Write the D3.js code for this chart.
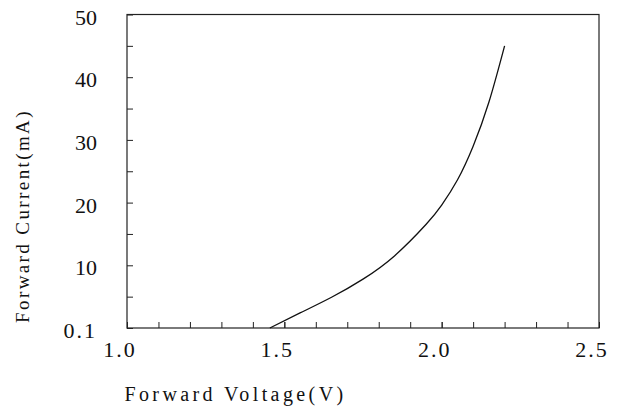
<!DOCTYPE html>
<html>
<head>
<meta charset="utf-8">
<script src="https://cdn.jsdelivr.net/npm/d3@7"></script>
<style>
  html, body { margin: 0; padding: 0; background: #fff; }
  svg { display: block; }
  text { font-family: "Liberation Serif", "DejaVu Serif", serif; fill: #111; }
</style>
</head>
<body>
<svg id="chart" width="625" height="412"></svg>
<script>
// Data
const voltage = [1.454, 1.55, 1.65, 1.75, 1.85, 1.95, 2.0, 2.05, 2.1, 2.15, 2.2];
const current = [0, 2.4, 4.9, 7.8, 11.5, 16.5, 19.6, 23.6, 29.0, 36.0, 45.0];
const xTicks = [1.0, 1.5, 2.0, 2.5];
const xTickLabels = ["1.0", "1.5", "2.0", "2.5"];
const yTicks = [0, 10, 20, 30, 40, 50];
const yTickLabels = ["0.1", "10", "20", "30", "40", "50"];
const xMinor = d3.range(11, 25).map(d => d / 10);
const yMinor = [5, 15, 25, 35, 45];

const svg = d3.select("#chart");
const L = 127, R = 599, T = 14.5, B = 328;

const x = d3.scaleLinear().domain([1.0, 2.5]).range([L, R]);
const y = d3.scaleLinear().domain([0, 50]).range([B, T]);

// Frame
svg.append("rect")
  .attr("x", L).attr("y", T).attr("width", R - L).attr("height", B - T)
  .attr("fill", "none").attr("stroke", "#222").attr("stroke-width", 1.2);

// X axis ticks (inside, pointing up)
const xAxis = d3.axisBottom(x).tickValues(xTicks.concat(xMinor)).tickSize(-6).tickFormat("");
const gx = svg.append("g").attr("transform", `translate(0,${B})`).call(xAxis);
gx.select(".domain").remove();
gx.selectAll("line").attr("stroke", "#222");

// Y axis ticks (inside, pointing right)
const yAxis = d3.axisLeft(y).tickValues(yTicks.concat(yMinor)).tickSize(-6).tickFormat("");
const gy = svg.append("g").attr("transform", `translate(${L},0)`).call(yAxis);
gy.select(".domain").remove();
gy.selectAll("line").attr("stroke", "#222");

// X tick labels
svg.append("g").selectAll("text").data(xTicks).join("text")
  .attr("x", d => x(d) - 7)
  .attr("y", 357)
  .attr("text-anchor", "middle")
  .attr("font-size", 22)
  .attr("letter-spacing", 2)
  .text((d, i) => xTickLabels[i]);

// Y tick labels
svg.append("g").selectAll("text").data(yTicks).join("text")
  .attr("x", 97)
  .attr("y", d => y(d) + 10)
  .attr("text-anchor", "end")
  .attr("font-size", 22)
  .attr("letter-spacing", d => d === 0 ? 2 : 0)
  .text((d, i) => yTickLabels[i]);

// Curve
const pts = voltage.map((v, i) => [v, current[i]]);
const line = d3.line().x(d => x(d[0])).y(d => y(d[1])).curve(d3.curveNatural);
svg.append("path").datum(pts)
  .attr("d", line)
  .attr("fill", "none").attr("stroke", "#111").attr("stroke-width", 1.3);

// Axis titles
svg.append("text")
  .attr("x", 235.5).attr("y", 401)
  .attr("text-anchor", "middle")
  .attr("font-size", 20)
  .attr("letter-spacing", 3.4)
  .text("Forward Voltage(V)");

svg.append("text")
  .attr("transform", "translate(29,216) rotate(-90)")
  .attr("text-anchor", "middle")
  .attr("font-size", 19)
  .attr("letter-spacing", 2.4)
  .text("Forward Current(mA)");
</script>
</body>
</html>
